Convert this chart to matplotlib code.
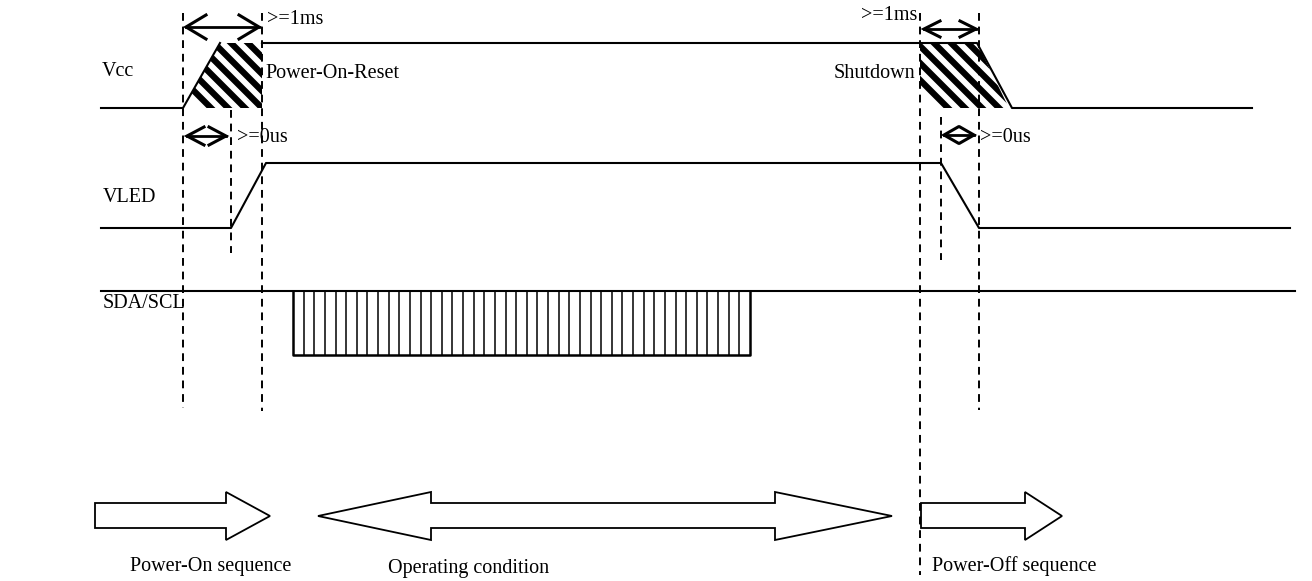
import matplotlib
matplotlib.use("Agg")
import matplotlib.pyplot as plt
from matplotlib.patches import Polygon
import numpy as np

plt.rcParams["font.family"] = ["Liberation Serif", "DejaVu Serif"]

W, H = 1312, 581

# signal traces, in pixels of the drawing (y grows downwards)
vcc_rise_x = [101, 183, 220]
vcc_rise_y = [108, 108, 43]
vcc_high_x = [262, 977, 1012, 1252]
vcc_high_y = [43, 43, 108, 108]
vled_x = [101, 231, 266, 941, 979, 1290]
vled_y = [228, 228, 163, 163, 228, 228]
sda_x = [101, 1295]
sda_level = 291

# I2C burst box
burst_x = [293, 750]
burst_y = [291, 355]
burst_cells = 43

# hatched ramps
hatch_on = [(183, 108), (220, 43), (262, 43), (262, 108)]
hatch_off = [(920, 43), (977, 43), (1009, 108), (920, 108)]
stripe_step = 17

# dashed guides
guide_x = [183, 262, 920, 979, 231, 941]
guide_top = [13, 13, 13, 13, 110, 117]
guide_bottom = [408, 411, 575, 410, 253, 260]

# timing arrows: x0, x1, y, head length, head half width
timing_arrows = [
    (186, 259, 27, 20, 12),
    (924, 976, 29, 16, 8),
    (187, 226, 136, 17, 9),
    (944, 974, 135, 14, 8),
]

# sequence block arrows
on_arrow = [95, 226, 270]
run_arrow = [318, 431, 775, 892]
off_arrow = [921, 1025, 1062]
shaft_y = [503, 528]
head_y = [492, 540]
tip_y = 516

# labels: text, x, centre y, horizontal alignment
labels = [
    ("Vcc", 102, 72, "left"),
    ("VLED", 103, 197, "left"),
    ("SDA/SCL", 103, 304, "left"),
    (">=1ms", 267, 19, "left"),
    ("Power-On-Reset", 265, 74, "left"),
    (">=1ms", 917, 16, "right"),
    ("Shutdown", 915, 73, "right"),
    (">=0us", 237, 137, "left"),
    (">=0us", 980, 137, "left"),
    ("Power-On sequence", 130, 566, "left"),
    ("Operating condition", 388, 568, "left"),
    ("Power-Off sequence", 932, 566, "left"),
]


def hatched(ax, pts):
    poly = Polygon(pts, closed=True, facecolor="none", edgecolor="none")
    ax.add_patch(poly)
    xs = [p[0] for p in pts]
    for c in np.arange(min(xs) - 80, max(xs) + 20, stripe_step):
        ln, = ax.plot([c, c + 120], [0, 120], color="black", lw=4.5,
                      solid_capstyle="butt")
        ln.set_clip_path(poly)


def double_arrow(ax, x0, x1, y, length, half):
    ax.plot([x0, x1], [y, y], color="black", lw=2)
    for tip, d in ((x0, 1), (x1, -1)):
        ax.plot([tip + d * length, tip, tip + d * length],
                [y - half, y, y + half], color="black", lw=2.2,
                solid_joinstyle="miter")


def right_arrow(ax, xs):
    tail, base, tip = xs
    pts = [(tail, shaft_y[0]), (base, shaft_y[0]), (base, head_y[0]),
           (tip, tip_y), (base, head_y[1]), (base, shaft_y[1]),
           (tail, shaft_y[1])]
    ax.add_patch(Polygon(pts, closed=True, facecolor="white",
                         edgecolor="black", lw=1.3))


fig = plt.figure(figsize=(W / 100, H / 100), dpi=100)
ax = fig.add_axes([0, 0, 1, 1])
ax.set_xlim(0, W)
ax.set_ylim(H, 0)
ax.axis("off")

# hatching first so traces sit on top
hatched(ax, hatch_on)
hatched(ax, hatch_off)

# dashed guides
for gx, gt, gb in zip(guide_x, guide_top, guide_bottom):
    ax.plot([gx, gx], [gt, gb], color="black", lw=1.4,
            linestyle=(0, (4, 3)))

# traces
ax.plot(vcc_rise_x, vcc_rise_y, color="black", lw=1.5)
ax.plot(vcc_high_x, vcc_high_y, color="black", lw=1.5)
ax.plot(vled_x, vled_y, color="black", lw=1.5)
ax.plot(sda_x, [sda_level, sda_level], color="black", lw=1.5)

# burst box
edges = np.linspace(burst_x[0], burst_x[1], burst_cells + 1)
for ex in edges[1:-1]:
    ax.plot([ex, ex], burst_y, color="black", lw=1.1)
ax.plot([burst_x[0], burst_x[0], burst_x[1], burst_x[1]],
        [burst_y[0], burst_y[1], burst_y[1], burst_y[0]],
        color="black", lw=1.8)

for a in timing_arrows:
    double_arrow(ax, *a)

right_arrow(ax, on_arrow)
right_arrow(ax, off_arrow)
lt, lb, rb, rt = run_arrow
run_pts = [(lt, tip_y), (lb, head_y[0]), (lb, shaft_y[0]), (rb, shaft_y[0]),
           (rb, head_y[0]), (rt, tip_y), (rb, head_y[1]), (rb, shaft_y[1]),
           (lb, shaft_y[1]), (lb, head_y[1])]
ax.add_patch(Polygon(run_pts, closed=True, facecolor="white",
                     edgecolor="black", lw=1.3))

for txt, tx, ty, ha in labels:
    ax.text(tx, ty, txt, fontsize=14.5, ha=ha, va="center", color="black")

fig.savefig("out.png", dpi=100)
